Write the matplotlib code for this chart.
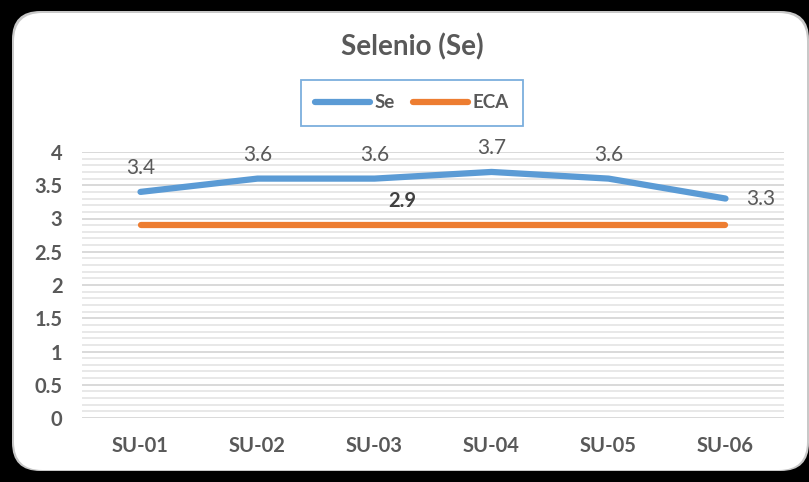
import numpy as np
import matplotlib.pyplot as plt
from matplotlib.patches import FancyBboxPatch
from matplotlib.ticker import MultipleLocator

plt.rcParams['font.family'] = ['Lato', 'DejaVu Sans']

puntos = ['SU-01', 'SU-02', 'SU-03', 'SU-04', 'SU-05', 'SU-06']
selenio = [3.4, 3.6, 3.6, 3.7, 3.6, 3.3]
eca = [2.9, 2.9, 2.9, 2.9, 2.9, 2.9]

azul = '#5B9BD5'
naranja = '#ED7D31'
gris = '#595959'

fig = plt.figure(figsize=(8.09, 4.82), dpi=100)
fig.patch.set_facecolor('black')

# tarjeta blanca con esquinas redondeadas y una sombra ligera
W, H = 809, 482
sombra = FancyBboxPatch((12 / W, 11 / H), 797 / W, 460 / H,
                        boxstyle='round,pad=0,rounding_size=0.035',
                        transform=fig.transFigure, facecolor='#C8C8C8',
                        edgecolor='none', zorder=0, mutation_aspect=W / H)
tarjeta = FancyBboxPatch((14 / W, 12 / H), 793 / W, 457 / H,
                         boxstyle='round,pad=0,rounding_size=0.035',
                         transform=fig.transFigure, facecolor='white',
                         edgecolor='none', zorder=1, mutation_aspect=W / H)
fig.patches.extend([sombra, tarjeta])

ax = fig.add_axes([82 / W, 64 / H, 702 / W, 266 / H])
ax.set_facecolor('none')
ax.set_zorder(2)

x = np.arange(len(puntos))
ax.plot(x, selenio, color=azul, lw=4.5, solid_capstyle='round',
        solid_joinstyle='round', label='Se', zorder=3)
ax.plot(x, eca, color=naranja, lw=4.5, solid_capstyle='round',
        label='ECA', zorder=3)

# etiquetas de datos
for i, v in enumerate(selenio):
    if i == len(selenio) - 1:
        ax.annotate(f'{v:g}', (x[i], v), xytext=(15, 0), textcoords='offset points',
                    ha='left', va='center', fontsize=15, color=gris)
    else:
        ax.annotate(f'{v:g}', (x[i], v), xytext=(0, 17), textcoords='offset points',
                    ha='center', va='center', fontsize=15, color=gris)
ax.text(2.24, eca[0] + 0.36, f'{eca[0]:g}', ha='center', va='center',
        fontsize=14.5, fontweight='bold', color='#404040')

ax.set_xlim(-0.5, len(puntos) - 0.5)
ax.set_ylim(0, 4)
ax.yaxis.set_minor_locator(MultipleLocator(0.1))
ax.set_yticks([0, 0.5, 1, 1.5, 2, 2.5, 3, 3.5, 4])
ax.set_yticklabels(['0', '0.5', '1', '1.5', '2', '2.5', '3', '3.5', '4'])
ax.set_xticks(x)
ax.set_xticklabels(puntos)
ax.tick_params(axis='both', which='both', length=0, labelsize=14.5, labelcolor=gris)
ax.tick_params(axis='y', pad=14)
ax.tick_params(axis='x', pad=13)
for lbl in ax.get_xticklabels() + ax.get_yticklabels():
    lbl.set_fontweight('bold')

ax.grid(True, which='major', axis='y', color='#D9D9D9', lw=1.4)
ax.grid(True, which='minor', axis='y', color='#E8E8E8', lw=1.4)
ax.set_axisbelow(True)
for s in ax.spines.values():
    s.set_visible(False)

fig.text(412 / W, 1 - 47 / H, 'Selenio (Se)', ha='center', va='center',
         fontsize=20, fontweight='bold', color=gris, zorder=3)

leg = fig.legend(loc='center', bbox_to_anchor=(412 / W, 1 - 103 / H), ncol=2,
                 frameon=True, fancybox=False, fontsize=13.5, handlelength=2.9,
                 columnspacing=1.0, handletextpad=0.25, borderpad=0.75,
                 borderaxespad=0)
leg.get_frame().set_edgecolor(azul)
leg.get_frame().set_linewidth(1.3)
leg.set_zorder(3)
for t in leg.get_texts():
    t.set_color(gris)
    t.set_fontweight('bold')

fig.savefig('out.png', dpi=100, facecolor=fig.get_facecolor())
